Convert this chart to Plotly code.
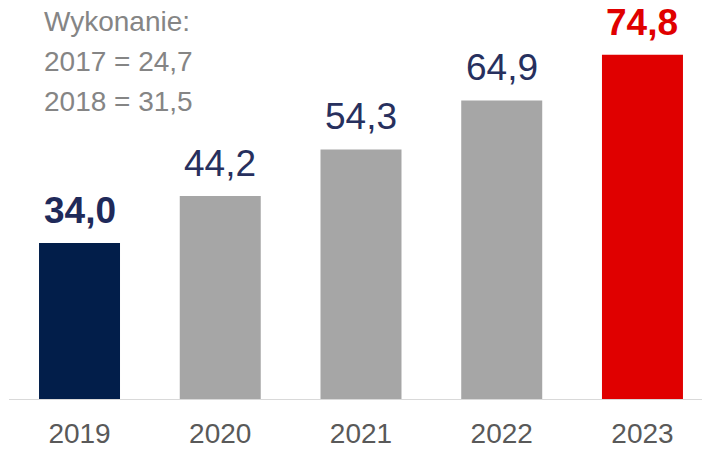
import plotly.graph_objects as go

# Revenue by year
years = ["2019", "2020", "2021", "2022", "2023"]
values = [34.0, 44.2, 54.3, 64.9, 74.8]
bar_colors = ["#021e4a", "#a6a6a6", "#a6a6a6", "#a6a6a6", "#e00000"]
label_colors = ["#1f2a5a", "#27305e", "#27305e", "#27305e", "#e00000"]
label_bold = [True, False, False, False, True]

note_lines = ["Wykonanie:", "2017 = 24,7", "2018 = 31,5"]

FONT = "Arial, Liberation Sans, sans-serif"

x_pos = list(range(len(years)))

fig = go.Figure(
    go.Bar(
        x=x_pos,
        y=values,
        width=0.5755,
        marker=dict(color=bar_colors, line=dict(width=0)),
        hoverinfo="skip",
    )
)

annotations = []
for xi, v, c, b in zip(x_pos, values, label_colors, label_bold):
    txt = f"{v:.1f}".replace(".", ",")
    if b:
        txt = f"<b>{txt}</b>"
    annotations.append(dict(
        x=xi, y=v, xref="x", yref="y", text=txt, showarrow=False,
        yanchor="bottom", yshift=10,
        font=dict(family=FONT, size=37, color=c),
    ))

for i, line in enumerate(note_lines):
    annotations.append(dict(
        x=42 / 702, y=1 - (4 + i * 40) / 400, xref="paper", yref="paper",
        text=line, showarrow=False, xanchor="left", yanchor="top",
        font=dict(family=FONT, size=28, color="#858585"),
    ))

fig.update_layout(
    width=702,
    height=449,
    margin=dict(l=0, r=0, t=0, b=49),
    paper_bgcolor="white",
    plot_bgcolor="white",
    showlegend=False,
    annotations=annotations,
    shapes=[dict(
        type="line", xref="paper", yref="y", x0=9 / 702, x1=1, y0=0, y1=0,
        line=dict(color="#d9d9d9", width=2),
    )],
    xaxis=dict(
        range=[-0.565, 4.423],
        tickmode="array",
        tickvals=x_pos,
        ticktext=years,
        tickfont=dict(family=FONT, size=28, color="#595959"),
        showgrid=False,
        zeroline=False,
        showline=False,
        ticks="outside",
        ticklen=8,
        tickcolor="rgba(0,0,0,0)",
        automargin=False,
        fixedrange=True,
    ),
    yaxis=dict(
        range=[0, 400 / 4.615],
        visible=False,
        automargin=False,
        fixedrange=True,
    ),
)

fig.write_html("out.html")
